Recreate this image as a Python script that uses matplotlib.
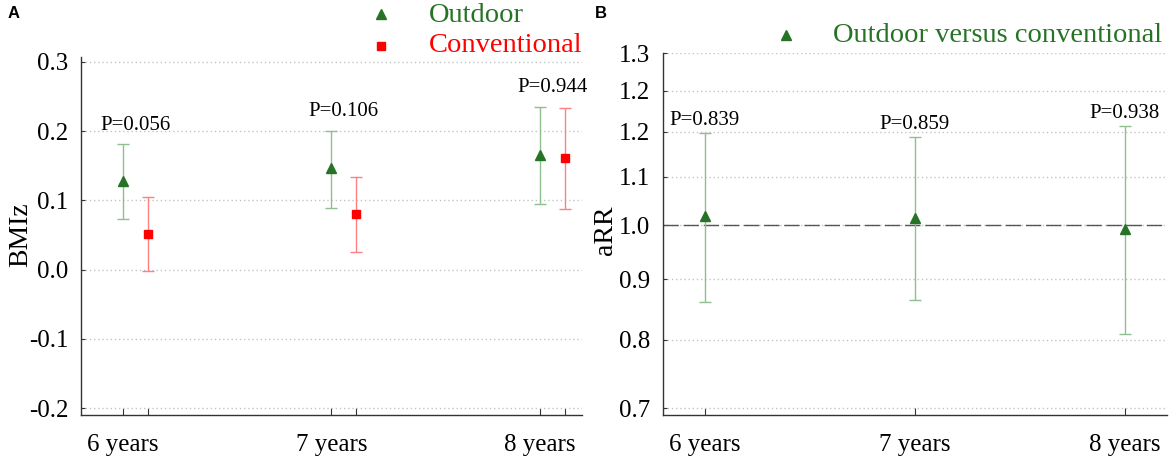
import matplotlib
matplotlib.use("Agg")
import matplotlib.pyplot as plt
from matplotlib.ticker import FixedLocator, NullLocator

plt.rcParams['font.family'] = ['Liberation Serif', 'DejaVu Serif']

# ---- data ----
ages = ['6 years', '7 years', '8 years']

# panel A: BMIz
outdoor_bmiz = [0.128, 0.146, 0.166]
outdoor_lo = [0.073, 0.089, 0.094]
outdoor_hi = [0.181, 0.200, 0.235]
conv_bmiz = [0.051, 0.080, 0.161]
conv_lo = [-0.002, 0.026, 0.088]
conv_hi = [0.105, 0.134, 0.234]
p_bmiz = ['P=0.056', 'P=0.106', 'P=0.944']

# panel B: aRR outdoor vs conventional
arr = [1.018, 1.015, 0.993]
arr_lo = [0.861, 0.864, 0.809]
arr_hi = [1.198, 1.189, 1.215]
p_arr = ['P=0.839', 'P=0.859', 'P=0.938']
arr_ticks = [0.7, 0.8, 0.9, 1.0, 1.1, 1.2, 1.3, 1.4]
arr_ticklabels = ['0.7', '0.8', '0.9', '1.0', '1.1', '1.2', '1.2', '1.3']

GREEN = '#267326'
GREEN_ERR = '#8fbf8f'
RED = '#ff0000'
RED_ERR = '#ff8080'
SPINE = '#333333'
GRID = '#c4c4c4'

W, H = 1170, 458
fig = plt.figure(figsize=(W / 100, H / 100), dpi=100)


def fx(px):
    return px / W


def fy(py):
    return 1 - py / H


def style_axes(ax):
    for s in ['top', 'right']:
        ax.spines[s].set_visible(False)
    for s in ['left', 'bottom']:
        ax.spines[s].set_color(SPINE)
        ax.spines[s].set_linewidth(1.0)
    ax.tick_params(axis='both', direction='in', colors=SPINE, labelcolor='black',
                   labelsize=18)
    ax.tick_params(axis='y', length=3, pad=9)
    ax.tick_params(axis='x', length=5, pad=14)
    ax.grid(axis='y', linestyle=(0, (1, 2)), color=GRID, linewidth=1.0)
    ax.set_axisbelow(True)
    ax.set_xlim(0.8, 3.2)


def draw_err(ax, x, y, lo, hi, ecolor, mcolor, marker, ms):
    yerr = [[v - l for v, l in zip(y, lo)], [h - v for v, h in zip(y, hi)]]
    ax.errorbar(x, y, yerr=yerr, fmt='none', ecolor=ecolor, elinewidth=1.0,
                capsize=4, capthick=1.0, zorder=2)
    ax.plot(x, y, linestyle='none', marker=marker, color=mcolor, markersize=ms,
            zorder=3)


# ---- panel A ----
axA = fig.add_axes([fx(81), fy(415), fx(581.7) - fx(81), fy(57) - fy(415)])
style_axes(axA)
x_out = [1, 2, 3]
x_conv = [x + 0.12 for x in x_out]
draw_err(axA, x_out, outdoor_bmiz, outdoor_lo, outdoor_hi, GREEN_ERR, GREEN, '^', 7)
draw_err(axA, x_conv, conv_bmiz, conv_lo, conv_hi, RED_ERR, RED, 's', 6)
axA.set_ylim(-0.210, 0.307)
axA.set_yticks([-0.2, -0.1, 0.0, 0.1, 0.2, 0.3])
axA.set_yticklabels(['-0.2', '-0.1', '0.0', '0.1', '0.2', '0.3'])
axA.set_xticks(sorted(x_out + x_conv))
axA.set_xticklabels([ages[0], '', ages[1], '', ages[2], ''])
axA.set_ylabel('BMIz', fontsize=20)
axA.yaxis.set_label_coords(-0.096, 0.505)
for i, txt in enumerate(p_bmiz):
    top = max(outdoor_hi[i], conv_hi[i])
    axA.annotate(txt, (x_out[i] + 0.06, top), xytext=(0, 7), textcoords='offset points',
                 ha='center', va='bottom', fontsize=15)

# ---- panel B ----
axB = fig.add_axes([fx(663), fy(415), fx(1166.7) - fx(663), fy(53) - fy(415)])
style_axes(axB)
axB.set_yscale('log')
axB.set_ylim(0.6905, 1.4)
axB.yaxis.set_major_locator(FixedLocator(arr_ticks))
axB.yaxis.set_minor_locator(NullLocator())
axB.set_yticklabels(arr_ticklabels)
axB.axhline(1.0, color='#555555', linewidth=1.0, dashes=(11, 3.5), zorder=1.5)
draw_err(axB, x_out, arr, arr_lo, arr_hi, GREEN_ERR, GREEN, '^', 7)
axB.set_xticks(x_out)
axB.set_xticklabels(ages)
axB.set_ylabel('aRR', fontsize=20)
axB.yaxis.set_label_coords(-0.089, 0.51)
for i, txt in enumerate(p_arr):
    axB.annotate(txt, (x_out[i], arr_hi[i]), xytext=(0, 2), textcoords='offset points',
                 ha='center', va='bottom', fontsize=15)

# ---- legends (placed above the plots) ----
fig.lines.append(plt.Line2D([fx(381)], [fy(14)], marker='^', color=GREEN, markersize=7,
                            linestyle='none', transform=fig.transFigure))
fig.lines.append(plt.Line2D([fx(381)], [fy(46)], marker='s', color=RED, markersize=6,
                            linestyle='none', transform=fig.transFigure))
fig.text(fx(429), fy(15), 'Outdoor', color=GREEN, fontsize=20.5, va='center', ha='left')
fig.text(fx(429), fy(46), 'Conventional', color=RED, fontsize=20.5, va='center', ha='left')
fig.lines.append(plt.Line2D([fx(786)], [fy(35)], marker='^', color=GREEN, markersize=7,
                            linestyle='none', transform=fig.transFigure))
fig.text(fx(833), fy(36), 'Outdoor versus conventional', color=GREEN, fontsize=20.5,
         va='center', ha='left')

# panel letters
fig.text(fx(8), fy(13), 'A', fontsize=12, fontweight='bold', family='Liberation Sans',
         va='center', ha='left')
fig.text(fx(595), fy(13), 'B', fontsize=12, fontweight='bold', family='Liberation Sans',
         va='center', ha='left')

fig.savefig('out.png', dpi=100)
